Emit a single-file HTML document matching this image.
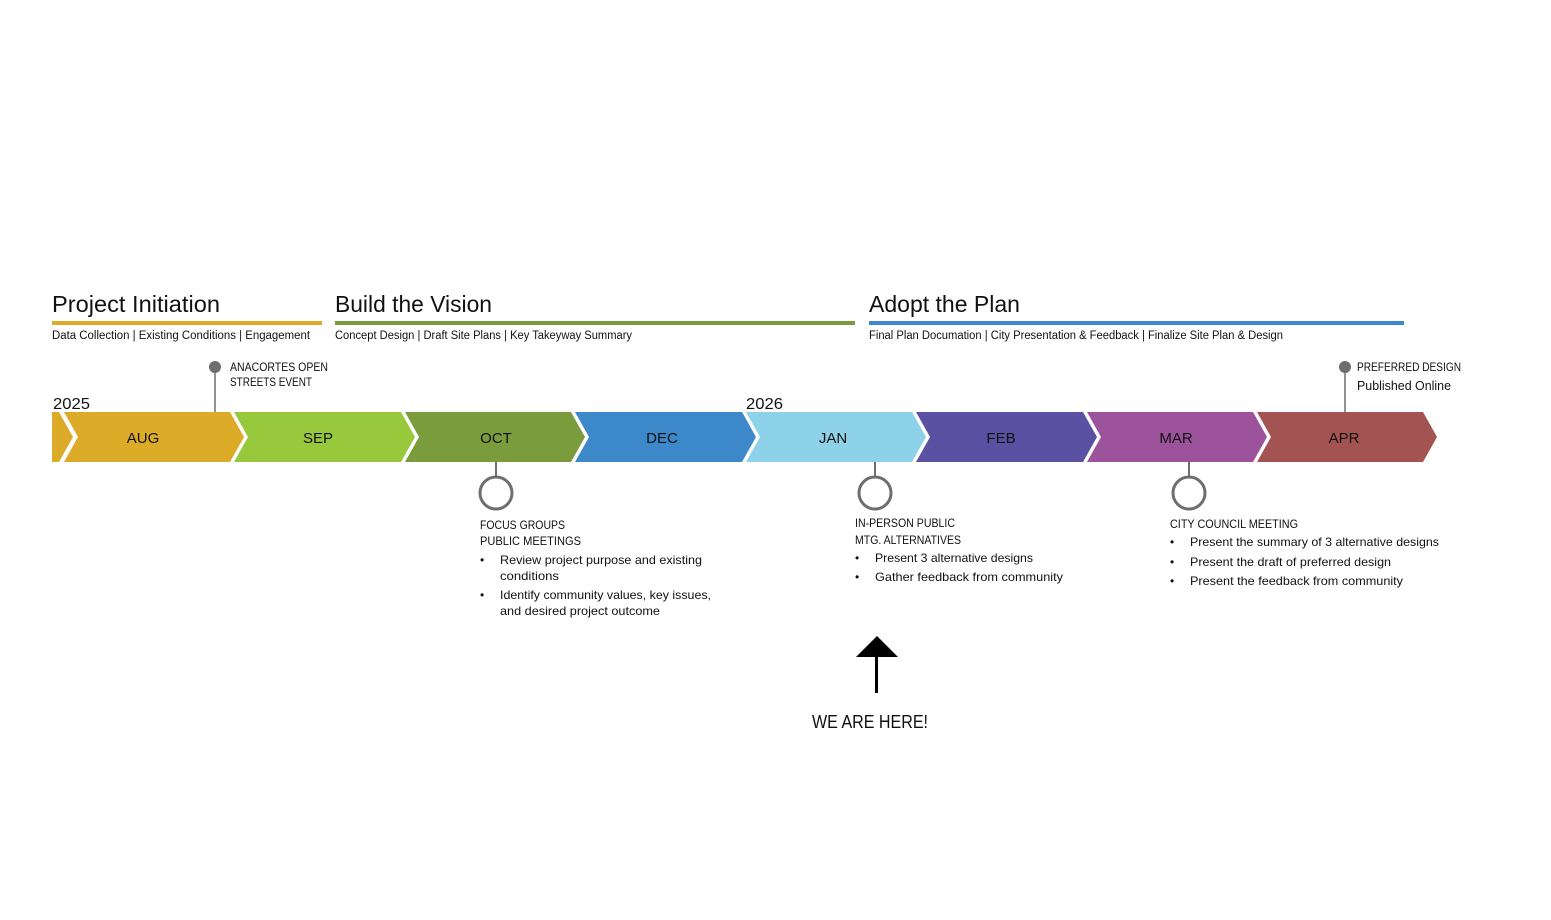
<!DOCTYPE html>
<html><head><meta charset="utf-8"><style>
html,body{margin:0;padding:0;background:#fff;}
svg{display:block;font-family:"Liberation Sans",sans-serif;}
</style></head><body>
<svg width="1551" height="920" viewBox="0 0 1551 920" xmlns="http://www.w3.org/2000/svg">
<rect width="1551" height="920" fill="#fff"/>
<!-- phase headers -->
<text x="52" y="312" font-size="23" fill="#111" textLength="168" lengthAdjust="spacingAndGlyphs">Project Initiation</text>
<rect x="52" y="321" width="270" height="4" fill="#dcab27"/>
<text x="52" y="339" font-size="11.5" fill="#111" textLength="258" lengthAdjust="spacingAndGlyphs">Data Collection | Existing Conditions | Engagement</text>

<text x="335" y="312" font-size="23" fill="#111" textLength="157" lengthAdjust="spacingAndGlyphs">Build the Vision</text>
<rect x="335" y="321" width="520" height="4" fill="#7a9c3c"/>
<text x="335" y="339" font-size="11.5" fill="#111" textLength="297" lengthAdjust="spacingAndGlyphs">Concept Design | Draft Site Plans | Key Takeyway Summary</text>

<text x="869" y="312" font-size="23" fill="#111" textLength="151" lengthAdjust="spacingAndGlyphs">Adopt the Plan</text>
<rect x="869" y="321" width="535" height="4" fill="#3d88c8"/>
<text x="869" y="339" font-size="11.5" fill="#111" textLength="414" lengthAdjust="spacingAndGlyphs">Final Plan Documation | City Presentation &amp; Feedback |  Finalize Site Plan &amp; Design</text>

<!-- years -->
<text x="53" y="409" font-size="16" fill="#111" textLength="37" lengthAdjust="spacingAndGlyphs">2025</text>
<text x="746" y="409" font-size="16" fill="#111" textLength="37" lengthAdjust="spacingAndGlyphs">2026</text>

<!-- pins above -->
<line x1="215" y1="367" x2="215" y2="412" stroke="#6d6e70" stroke-width="1.5"/>
<circle cx="215" cy="367" r="6" fill="#6d6e70"/>
<text x="230" y="371" font-size="11.5" fill="#111" textLength="98" lengthAdjust="spacingAndGlyphs">ANACORTES OPEN</text>
<text x="230" y="386" font-size="11.5" fill="#111" textLength="82" lengthAdjust="spacingAndGlyphs">STREETS EVENT</text>

<line x1="1345" y1="367" x2="1345" y2="412" stroke="#6d6e70" stroke-width="1.5"/>
<circle cx="1345" cy="367" r="6" fill="#6d6e70"/>
<text x="1357" y="371" font-size="11.5" fill="#111" textLength="104" lengthAdjust="spacingAndGlyphs">PREFERRED DESIGN</text>
<text x="1357" y="390" font-size="12.5" fill="#111" textLength="94" lengthAdjust="spacingAndGlyphs">Published Online</text>

<!-- chevrons -->
<polygon points="52,412 59,412 73,437 59,462 52,462" fill="#dcab27"/>
<g font-size="15" fill="#111" text-anchor="middle">
<polygon points="64,412 230,412 244,437 230,462 64,462 78,437" fill="#dcab27"/>
<text x="143" y="443">AUG</text>
<polygon points="234,412 401,412 415,437 401,462 234,462 248,437" fill="#98c93c"/>
<text x="318" y="443">SEP</text>
<polygon points="405,412 571,412 585,437 571,462 405,462 419,437" fill="#7a9c3c"/>
<text x="496" y="443">OCT</text>
<polygon points="575,412 742,412 756,437 742,462 575,462 589,437" fill="#3d88c8"/>
<text x="662" y="443">DEC</text>
<polygon points="746,412 912,412 926,437 912,462 746,462 760,437" fill="#8dd2e8"/>
<text x="833" y="443">JAN</text>
<polygon points="916,412 1083,412 1097,437 1083,462 916,462 930,437" fill="#5a51a2"/>
<text x="1001" y="443">FEB</text>
<polygon points="1087,412 1253,412 1267,437 1253,462 1087,462 1101,437" fill="#9d529c"/>
<text x="1176" y="443">MAR</text>
<polygon points="1257,412 1423,412 1437,437 1423,462 1257,462 1271,437" fill="#a35452"/>
<text x="1344" y="443">APR</text>
</g>

<!-- pins below -->
<g stroke="#6d6e70" fill="none">
<line x1="496" y1="462" x2="496" y2="477" stroke-width="2"/>
<circle cx="496" cy="493" r="16" stroke-width="3"/>
<line x1="875" y1="462" x2="875" y2="477" stroke-width="2"/>
<circle cx="875" cy="493" r="16" stroke-width="3"/>
<line x1="1189" y1="462" x2="1189" y2="477" stroke-width="2"/>
<circle cx="1189" cy="493" r="16" stroke-width="3"/>
</g>

<g font-size="12" fill="#111">
<text x="480" y="529" textLength="85" lengthAdjust="spacingAndGlyphs">FOCUS GROUPS</text>
<text x="480" y="545" textLength="101" lengthAdjust="spacingAndGlyphs">PUBLIC MEETINGS</text>
<text x="480" y="564">•</text>
<text x="500" y="564" textLength="202" lengthAdjust="spacingAndGlyphs">Review project purpose and existing</text>
<text x="500" y="580" textLength="59" lengthAdjust="spacingAndGlyphs">conditions</text>
<text x="480" y="599">•</text>
<text x="500" y="599" textLength="211" lengthAdjust="spacingAndGlyphs">Identify community values, key issues,</text>
<text x="500" y="615" textLength="160" lengthAdjust="spacingAndGlyphs">and desired project outcome</text>

<text x="855" y="527" textLength="100" lengthAdjust="spacingAndGlyphs">IN-PERSON PUBLIC</text>
<text x="855" y="544" textLength="106" lengthAdjust="spacingAndGlyphs">MTG. ALTERNATIVES</text>
<text x="855" y="562">•</text>
<text x="875" y="562" textLength="158" lengthAdjust="spacingAndGlyphs">Present 3 alternative designs</text>
<text x="855" y="581">•</text>
<text x="875" y="581" textLength="188" lengthAdjust="spacingAndGlyphs">Gather feedback from community</text>

<text x="1170" y="528" textLength="128" lengthAdjust="spacingAndGlyphs">CITY COUNCIL MEETING</text>
<text x="1170" y="546">•</text>
<text x="1190" y="546" textLength="249" lengthAdjust="spacingAndGlyphs">Present the summary of 3 alternative designs</text>
<text x="1170" y="566">•</text>
<text x="1190" y="566" textLength="201" lengthAdjust="spacingAndGlyphs">Present the draft of preferred design</text>
<text x="1170" y="585">•</text>
<text x="1190" y="585" textLength="213" lengthAdjust="spacingAndGlyphs">Present the feedback from community</text>
</g>

<!-- we are here -->
<polygon points="856,657 877,636 898,657" fill="#000"/>
<rect x="875" y="655" width="3" height="38" fill="#000"/>
<text x="812" y="728" font-size="18" fill="#111" textLength="116" lengthAdjust="spacingAndGlyphs">WE ARE HERE!</text>
</svg>
</body></html>
